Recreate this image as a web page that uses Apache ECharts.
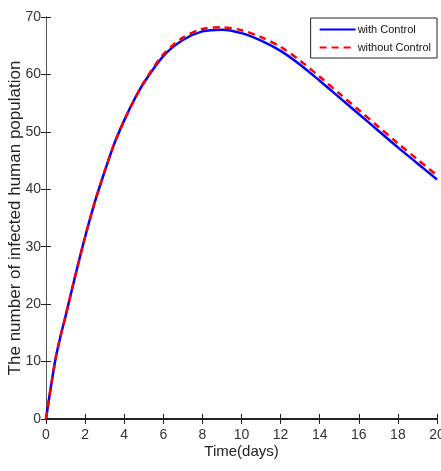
<!DOCTYPE html>
<html>
<head>
<meta charset="utf-8">
<script src="https://cdn.jsdelivr.net/npm/echarts@6/dist/echarts.min.js"></script>
<style>
  html, body { margin: 0; padding: 0; background: #fff; }
  #chart { width: 441px; height: 471px; }
</style>
</head>
<body>
<div id="chart"></div>
<script>
// days (x axis)
var days = [0, 0.25, 0.5, 0.75, 1, 1.5, 2, 2.5, 3, 3.5, 4, 4.5, 5, 6, 7, 8, 9, 10, 11, 12, 13, 14, 15, 16, 17, 18, 19, 20];
// infected humans, with control
var withControl = [0, 5.6, 10.7, 14.5, 17.9, 25.0, 31.7, 37.8, 43.1, 48.0, 52.0, 55.5, 58.5, 63.2, 66.0, 67.5, 67.8, 67.2, 65.9, 64.1, 61.7, 58.9, 56.0, 53.1, 50.2, 47.3, 44.5, 41.7];
// infected humans, without control
var withoutControl = [0, 5.6, 10.7, 14.5, 17.9, 25.0, 31.7, 37.8, 43.1, 48.0, 52.0, 55.5, 58.6, 63.5, 66.4, 67.9, 68.2, 67.7, 66.5, 64.8, 62.4, 59.6, 56.7, 53.8, 50.9, 48.0, 45.2, 42.4];

function pairs(ys) {
    return days.map(function (d, i) { return [d, ys[i]]; });
}

var chart = echarts.init(document.getElementById('chart'), null, {renderer: 'canvas'});
var font = 'Liberation Sans';
var option = {
    backgroundColor: '#fff',
    animation: false,
    textStyle: {fontFamily: font},
    grid: {left: 46, right: 4, top: 17, bottom: 52, containLabel: false, outerBoundsMode: 'none'},
    legend: {
        orient: 'vertical',
        right: 4,
        top: 18,
        padding: [6, 6, 5, 8],
        itemGap: 7,
        itemWidth: 36,
        itemHeight: 12,
        backgroundColor: '#fff',
        borderColor: '#222',
        borderWidth: 1,
        borderRadius: 0,
        itemStyle: {opacity: 0},
        textStyle: {fontFamily: font, fontSize: 11, color: '#111', padding: [0, 0, 0, -3]},
        data: ['with Control', 'without Control']
    },
    xAxis: [{
        type: 'value',
        min: 0, max: 20, interval: 2,
        name: 'Time(days)',
        nameLocation: 'middle',
        nameGap: 25,
        nameMoveOverlap: false,
        nameTextStyle: {fontSize: 15, color: '#222', fontFamily: font},
        axisLine: {lineStyle: {color: '#222', width: 2}},
        axisTick: {inside: true, length: 5, lineStyle: {color: '#222', width: 1}},
        axisLabel: {fontSize: 14, color: '#333', margin: 9, fontFamily: font},
        splitLine: {show: false}
    }, {
        type: 'value',
        position: 'top',
        min: 0, max: 20, interval: 2,
        axisLine: {lineStyle: {color: '#222', width: 2}},
        axisTick: {inside: true, length: 5, lineStyle: {color: '#222'}},
        axisLabel: {show: false},
        splitLine: {show: false}
    }],
    yAxis: [{
        type: 'value',
        min: 0, max: 70, interval: 10,
        name: 'The number of infected human population',
        nameLocation: 'middle',
        nameGap: 22,
        nameMoveOverlap: false,
        nameTextStyle: {fontSize: 17, color: '#222', fontFamily: font},
        axisLine: {lineStyle: {color: '#555', width: 1}},
        axisTick: {inside: true, length: 5, lineStyle: {color: '#222'}},
        axisLabel: {fontSize: 14, color: '#333', margin: 5, fontFamily: font},
        splitLine: {show: false}
    }, {
        type: 'value',
        position: 'right',
        min: 0, max: 70, interval: 10,
        axisLine: {lineStyle: {color: '#555', width: 1}},
        axisTick: {inside: true, length: 5, lineStyle: {color: '#222'}},
        axisLabel: {show: false},
        splitLine: {show: false}
    }],
    series: [{
        name: 'with Control',
        type: 'line',
        smooth: 0.3,
        symbol: 'none',
        color: '#0000ff',
        lineStyle: {color: '#0000ff', width: 2.5},
        data: pairs(withControl)
    }, {
        name: 'without Control',
        type: 'line',
        smooth: 0.3,
        symbol: 'none',
        color: '#ff0000',
        lineStyle: {color: '#ff0000', width: 2.5, type: [7, 5]},
        data: pairs(withoutControl)
    }]
};
chart.setOption(option);
</script>
</body>
</html>
